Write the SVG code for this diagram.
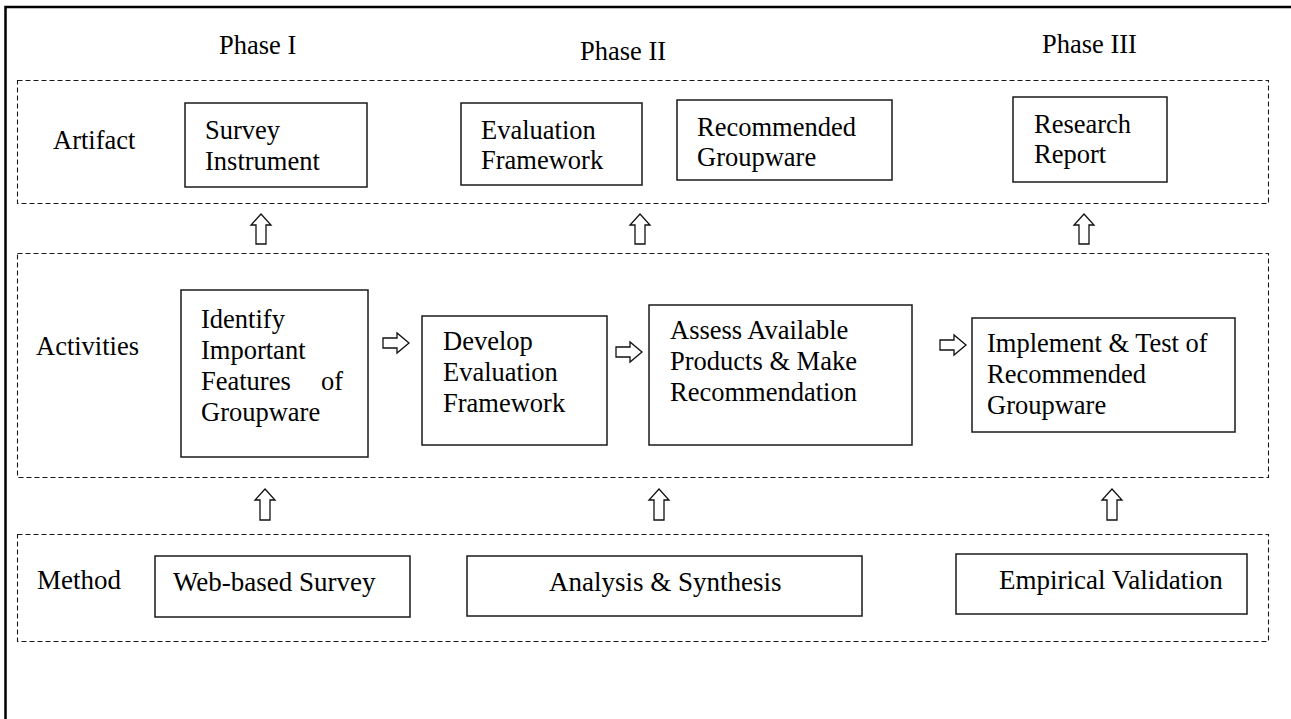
<svg xmlns="http://www.w3.org/2000/svg" width="1291" height="719" viewBox="0 0 1291 719">
<style>
text{font-family:'Liberation Serif','Times New Roman','DejaVu Serif',serif;font-size:26.5px;fill:#000}
.m{font-size:27px}
.dash{fill:none;stroke:#1a1a1a;stroke-width:1.1;stroke-dasharray:5 3}
.box{fill:#fff;stroke:#1a1a1a;stroke-width:1.5}
.arr{fill:#fff;stroke:#111;stroke-width:1.3;stroke-linejoin:miter}
</style>
<rect width="1291" height="719" fill="#fff"/>
<g id="frame"><path d="M5.5 719V7H1291" fill="none" stroke="#000" stroke-width="2.5"/></g>
<g font-family="Liberation Serif, Times New Roman, DejaVu Serif, serif">
<g id="phases">
<text x="219" y="54">Phase I</text>
<text x="580" y="60">Phase II</text>
<text x="1042" y="53">Phase III</text>
</g>
<g id="lanes">
<rect class="dash" x="17.5" y="80.5" width="1251" height="123"/>
<rect class="dash" x="17.5" y="253.5" width="1251" height="224"/>
<rect class="dash" x="17.5" y="534.5" width="1251" height="107"/>
<text x="53" y="149">Artifact</text>
<text x="36" y="355">Activities</text>
<text class="m" x="37" y="589">Method</text>
</g>
<g id="survey-instrument"><rect class="box" x="185" y="103" width="182" height="84"/><text x="205" y="139">Survey</text><text x="205" y="170">Instrument</text></g>
<g id="evaluation-framework"><rect class="box" x="461" y="103" width="181" height="82"/><text x="481" y="139">Evaluation</text><text x="481" y="169">Framework</text></g>
<g id="recommended-groupware"><rect class="box" x="677" y="100" width="215" height="80"/><text x="697" y="136">Recommended</text><text x="697" y="166">Groupware</text></g>
<g id="research-report"><rect class="box" x="1013" y="97" width="154" height="85"/><text x="1034" y="133">Research</text><text x="1034" y="163">Report</text></g>
<g id="identify"><rect class="box" x="181" y="290" width="187" height="167"/><text x="201" y="328">Identify</text><text x="201" y="359">Important</text><text x="201" y="390">Features</text><text x="321" y="390">of</text><text x="201" y="421">Groupware</text></g>
<g id="develop"><rect class="box" x="422" y="316" width="185" height="129"/><text x="443" y="350">Develop</text><text x="443" y="381">Evaluation</text><text x="443" y="412">Framework</text></g>
<g id="assess"><rect class="box" x="649" y="305" width="263" height="140"/><text x="670" y="339">Assess Available</text><text x="670" y="370">Products &amp; Make</text><text x="670" y="401">Recommendation</text></g>
<g id="implement"><rect class="box" x="972" y="318" width="263" height="114"/><text x="987" y="352">Implement &amp; Test of</text><text x="987" y="383">Recommended</text><text x="987" y="414">Groupware</text></g>
<g id="web-survey"><rect class="box" x="155" y="556" width="255" height="61"/><text class="m" x="173" y="591">Web-based Survey</text></g>
<g id="analysis"><rect class="box" x="467" y="556" width="395" height="60"/><text class="m" x="549" y="591">Analysis &amp; Synthesis</text></g>
<g id="empirical"><rect class="box" x="956" y="554" width="291" height="60"/><text class="m" x="999" y="589">Empirical Validation</text></g>
</g>
<g id="connectors">
<path class="arr" d="M261 214l10 11h-5v19h-10v-19h-5z"/>
<path class="arr" d="M640 214l10 11h-5v19h-10v-19h-5z"/>
<path class="arr" d="M1084 214l10 11h-5v19h-10v-19h-5z"/>
<path class="arr" d="M265 489l10 11h-5v20h-10v-20h-5z"/>
<path class="arr" d="M659 489l10 11h-5v20h-10v-20h-5z"/>
<path class="arr" d="M1112 489l10 11h-5v20h-10v-20h-5z"/>
<path class="arr" d="M409 343l-12 10v-5h-14v-10h14v-5z"/>
<path class="arr" d="M642 352l-12 10v-5h-14v-10h14v-5z"/>
<path class="arr" d="M966 345l-12 10v-5h-14v-10h14v-5z"/>
</g>
</svg>
